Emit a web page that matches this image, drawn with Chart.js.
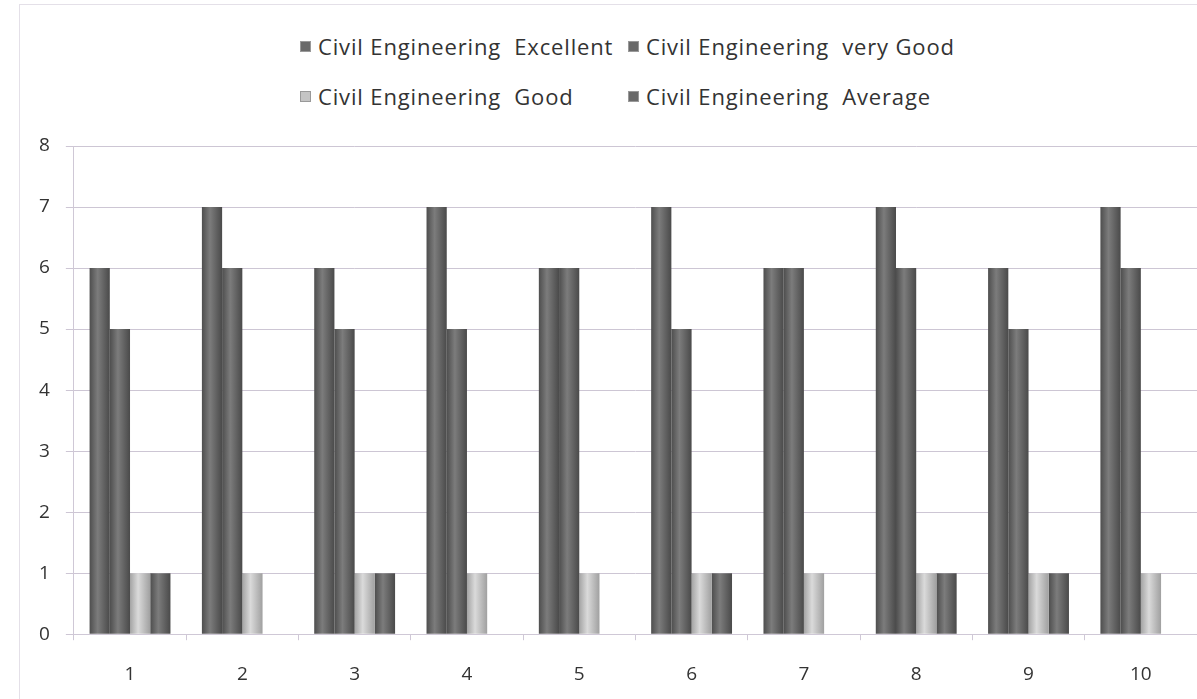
<!DOCTYPE html>
<html>
<head>
<meta charset="utf-8">
<script src="https://cdn.jsdelivr.net/npm/chart.js@4"></script>
<style>
  html, body { margin: 0; padding: 0; background: #fff; overflow: hidden; }
  #wrap { position: relative; width: 1197px; height: 699px; overflow: hidden; }
  #frame { position: absolute; left: 19px; top: 4px; width: 1180px; height: 700px; border-left: 1px solid #e4e0e8; border-top: 1px solid #e4e0e8; }
  #legend { position: absolute; left: 300px; top: 31px; display: grid; grid-template-columns: 328px 330px; row-gap: 20px;
    font-family: "Open Sans", sans-serif; font-size: 22px; letter-spacing: 0.85px; color: #333; line-height: 30px; }
  .item { display: flex; align-items: center; white-space: pre; }
  .sw { width: 11px; height: 11px; margin-right: 7px; box-sizing: border-box; border: 1px solid #999; }
  canvas { position: absolute; left: 0; top: 0; }
</style>
</head>
<body>
<div id="wrap">
  <div id="frame"></div>
  <div id="legend"></div>
  <canvas id="c" width="1197" height="710"></canvas>
</div>
<script>
const categories = ["1","2","3","4","5","6","7","8","9","10"];
const seriesNames = ["Civil Engineering  Excellent", "Civil Engineering  very Good", "Civil Engineering  Good", "Civil Engineering  Average"];
const excellent = [6, 7, 6, 7, 6, 7, 6, 7, 6, 7];
const veryGood  = [5, 6, 5, 5, 6, 5, 6, 6, 5, 6];
const good      = [1, 1, 1, 1, 1, 1, 1, 1, 1, 1];
const average   = [1, 0, 1, 0, 0, 1, 0, 1, 1, 0];
const yTicks = [0, 1, 2, 3, 4, 5, 6, 7, 8];

const CAT_PCT = 0.72;
const palettes = [
  ["#4e4e4e", "#7c7c7c", "#4a4a4a"],
  ["#4e4e4e", "#7c7c7c", "#4a4a4a"],
  ["#a4a4a4", "#dadada", "#a0a0a0"],
  ["#4e4e4e", "#7c7c7c", "#4a4a4a"]
];
const legendColors = ["#6a6a6a", "#6a6a6a", "#c4c4c4", "#6a6a6a"];

function barFill(ctx) {
  const chart = ctx.chart;
  const p = palettes[ctx.datasetIndex];
  const xs = chart.scales.x;
  if (!chart.chartArea || !xs || ctx.dataIndex === undefined) return p[1];
  const n = chart.data.datasets.length;
  const catW = xs.width / categories.length;
  const bw = catW * CAT_PCT / n;
  const cx = xs.getPixelForValue(ctx.dataIndex) + (ctx.datasetIndex - (n - 1) / 2) * bw;
  const g = chart.ctx.createLinearGradient(cx - bw / 2, 0, cx + bw / 2, 0);
  g.addColorStop(0, p[0]);
  g.addColorStop(0.4, p[1]);
  g.addColorStop(1, p[2]);
  return g;
}

const seriesData = [excellent, veryGood, good, average];

// HTML legend
const lg = document.getElementById('legend');
seriesNames.forEach((name, i) => {
  const d = document.createElement('div');
  d.className = 'item';
  const s = document.createElement('span');
  s.className = 'sw';
  s.style.background = legendColors[i];
  d.appendChild(s);
  d.appendChild(document.createTextNode(name));
  lg.appendChild(d);
});

new Chart(document.getElementById('c'), {
  type: 'bar',
  data: {
    labels: categories,
    datasets: seriesNames.map((name, i) => ({
      label: name,
      data: seriesData[i],
      backgroundColor: barFill,
      borderWidth: 0,
      barPercentage: 1.0,
      categoryPercentage: CAT_PCT
    }))
  },
  options: {
    responsive: false,
    animation: false,
    layout: { padding: { top: 146, left: 23, right: 0, bottom: 1 } },
    plugins: { legend: { display: false }, tooltip: { enabled: false } },
    scales: {
      x: {
        offset: true,
        grid: { display: true, drawOnChartArea: false, offset: true, color: '#cfc8d6', tickLength: 6 },
        border: { color: '#cfc8d6', width: 1 },
        ticks: { color: '#333', font: { family: 'Open Sans', size: 19 }, padding: 23 }
      },
      y: {
        min: 0, max: 8,
        afterBuildTicks: (axis) => { axis.ticks = yTicks.map(v => ({ value: v })); },
        grid: { color: '#cdc6d4', tickLength: 8 },
        border: { color: '#cfc8d6', width: 1 },
        ticks: { color: '#333', font: { family: 'Open Sans', size: 19 }, padding: 16 }
      }
    }
  }
});
</script>
</body>
</html>
